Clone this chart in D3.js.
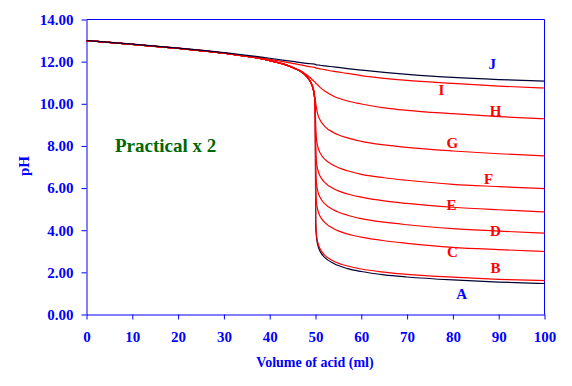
<!DOCTYPE html>
<html>
<head>
<meta charset="utf-8">
<script src="https://d3js.org/d3.v7.min.js"></script>
<style>
  body { margin: 0; background: #fff; }
  text { font-family: "Liberation Serif", "Times New Roman", serif; font-weight: bold; }
</style>
</head>
<body>
<script>
"use strict";

// Volume of acid added (ml), shared by all curves.
var vols = [0, 10, 20, 30, 40, 45, 48, 49, 49.5, 49.8, 49.95, 50, 50.05, 50.2, 50.5,
            51, 52, 54, 57, 60, 65, 70, 80, 90, 100];

// pH at those volumes.
var phA = [13.00, 12.82, 12.63, 12.40, 12.05, 11.72, 11.31, 11.00, 10.70, 10.30, 9.70, 7.00, 4.30, 3.70, 3.30,
           3.00, 2.71, 2.42, 2.18, 2.04, 1.88, 1.78, 1.64, 1.54, 1.47];
var phB = [13.00, 12.82, 12.63, 12.40, 12.05, 11.72, 11.31, 11.00, 10.70, 10.30, 9.70, 7.00, 4.42, 3.82, 3.42,
           3.12, 2.82, 2.53, 2.30, 2.16, 2.01, 1.90, 1.77, 1.67, 1.61];
var phC = [13.00, 12.82, 12.63, 12.40, 12.05, 11.72, 11.31, 11.00, 10.70, 10.30, 9.70, 7.83, 5.96, 5.36, 4.96,
           4.66, 4.37, 4.07, 3.82, 3.67, 3.50, 3.38, 3.19, 3.08, 2.99];
var phD = [13.00, 12.82, 12.63, 12.40, 12.05, 11.72, 11.31, 11.00, 10.70, 10.30, 9.70, 8.28, 6.86, 6.26, 5.86,
           5.56, 5.26, 4.96, 4.71, 4.55, 4.38, 4.26, 4.08, 3.96, 3.86];
var phE = [13.00, 12.82, 12.63, 12.40, 12.05, 11.72, 11.31, 11.00, 10.70, 10.30, 9.71, 8.79, 7.87, 7.27, 6.87,
           6.57, 6.27, 5.97, 5.72, 5.57, 5.39, 5.27, 5.09, 4.97, 4.87];
var phF = [13.00, 12.82, 12.63, 12.40, 12.05, 11.72, 11.31, 11.00, 10.70, 10.31, 9.76, 9.33, 8.92, 8.37, 7.97,
           7.67, 7.37, 7.07, 6.82, 6.65, 6.49, 6.37, 6.18, 6.07, 5.97];
var phG = [13.00, 12.82, 12.63, 12.40, 12.05, 11.72, 11.31, 11.01, 10.73, 10.42, 10.20, 10.12, 10.03, 9.81, 9.50,
           9.23, 8.93, 8.63, 8.38, 8.22, 8.05, 7.93, 7.76, 7.63, 7.53];
var phH = [13.00, 12.82, 12.63, 12.40, 12.05, 11.73, 11.39, 11.21, 11.10, 11.04, 11.01, 10.99, 10.98, 10.95, 10.89,
           10.78, 10.61, 10.36, 10.13, 9.99, 9.81, 9.69, 9.53, 9.39, 9.29];
var phI = [13.00, 12.83, 12.64, 12.41, 12.11, 11.92, 11.79, 11.75, 11.74, 11.73, 11.72, 11.71, 11.70, 11.69, 11.68,
           11.66, 11.62, 11.54, 11.44, 11.34, 11.21, 11.11, 10.97, 10.84, 10.75];
var phJ = [13.00, 12.83, 12.64, 12.43, 12.16, 12.01, 11.92, 11.90, 11.89, 11.88, 11.87, 11.86, 11.86, 11.85, 11.84,
           11.83, 11.80, 11.75, 11.67, 11.60, 11.49, 11.40, 11.25, 11.15, 11.08];

var seriesNames = ["A", "B", "C", "D", "E", "F", "G", "H", "I", "J"];
var seriesValues = [phA, phB, phC, phD, phE, phF, phG, phH, phI, phJ];

// Where each curve's letter sits, in chart units (volume, pH).
var labelVol = [81.9, 89.3, 79.9, 89.3, 79.7, 87.8, 79.9, 89.3, 77.5, 88.6];
var labelPh  = [1.00, 2.23, 2.99, 3.99, 5.23, 6.46, 8.17, 9.65, 10.65, 11.90];

var yTicks = [0, 2, 4, 6, 8, 10, 12, 14];
var xTicks = [0, 10, 20, 30, 40, 50, 60, 70, 80, 90, 100];

var width = 572, height = 386;
var blue = "#0000ff", red = "#ff0000", dark = "#000033";

var svg = d3.select("body").append("svg")
    .attr("width", width)
    .attr("height", height);

var x = d3.scaleLinear().domain([0, 100]).range([86.5, 544.5]);
var y = d3.scaleLinear().domain([0, 14]).range([314.5, 19.5]);

// frame: top and right edges
svg.append("path")
    .attr("d", "M" + x(0) + "," + y(14) + "H" + x(100) + "V" + y(0))
    .attr("fill", "none")
    .attr("stroke", blue);

var yAxis = svg.append("g")
    .attr("transform", "translate(" + x(0) + ",0)")
    .call(d3.axisLeft(y).tickValues(yTicks).tickFormat(d3.format(".2f"))
      .tickSize(5).tickSizeOuter(0).tickPadding(8));

var xAxis = svg.append("g")
    .attr("transform", "translate(0," + y(0) + ")")
    .call(d3.axisBottom(x).tickValues(xTicks).tickFormat(d3.format("d"))
      .tickSize(5).tickSizeOuter(0).tickPadding(12));

[yAxis, xAxis].forEach(function(g) {
  g.select(".domain").attr("stroke", blue);
  g.selectAll(".tick line").attr("stroke", blue);
  g.selectAll(".tick text")
      .attr("fill", blue)
      .style("font-size", "15px")
      .style("font-family", "'Liberation Serif', serif")
      .style("font-weight", "bold");
});

// curves
var line = d3.line()
    .x(function(d, i) { return x(vols[i]); })
    .y(function(d) { return y(d); })
    .curve(d3.curveMonotoneX);

seriesValues.forEach(function(vals, i) {
  var name = seriesNames[i];
  svg.append("path")
      .datum(vals)
      .attr("d", line)
      .attr("fill", "none")
      .attr("stroke", (name === "A" || name === "J") ? dark : red)
      .attr("stroke-width", 1.2);
});

seriesNames.forEach(function(name, i) {
  svg.append("text")
      .attr("x", x(labelVol[i]))
      .attr("y", y(labelPh[i]))
      .attr("dy", "0.35em")
      .attr("text-anchor", "middle")
      .attr("fill", (name === "A" || name === "J") ? blue : red)
      .style("font-size", "15px")
      .text(name);
});

svg.append("text")
    .attr("x", 115)
    .attr("y", 152)
    .attr("fill", "#006600")
    .style("font-size", "19px")
    .text("Practical x 2");

svg.append("text")
    .attr("x", 315)
    .attr("y", 367)
    .attr("text-anchor", "middle")
    .attr("fill", blue)
    .style("font-size", "14px")
    .text("Volume of acid (ml)");

svg.append("text")
    .attr("transform", "translate(29,166) rotate(-90)")
    .attr("text-anchor", "middle")
    .attr("fill", blue)
    .style("font-size", "15px")
    .text("pH");
</script>
</body>
</html>
